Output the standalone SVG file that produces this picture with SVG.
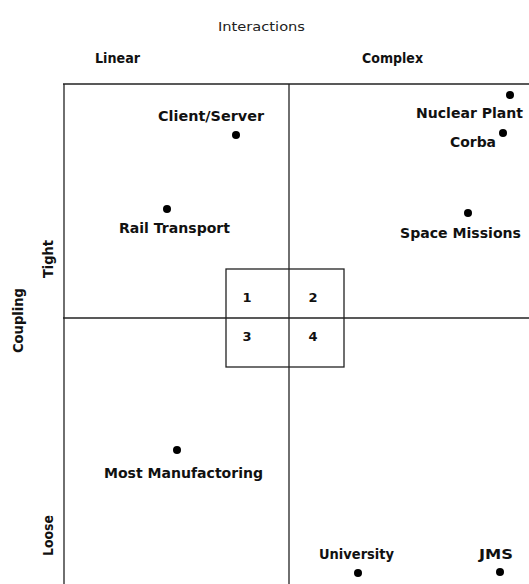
<svg xmlns="http://www.w3.org/2000/svg" width="529" height="584" viewBox="0 0 529 584">
<style>
.ln{stroke:#222;stroke-width:1.3;fill:none}
.t{font-family:"DejaVu Sans",sans-serif;font-size:13.5px;font-weight:bold;fill:#111}
.h{font-family:"DejaVu Sans",sans-serif;font-size:12px;fill:#222}
.n{font-family:"DejaVu Sans",sans-serif;font-size:13px;font-weight:bold;fill:#111;text-anchor:middle}
.d{fill:#000}
</style>
<rect width="529" height="584" fill="#fff"/>
<g id="axes">
<text class="h" x="218" y="31" textLength="87" lengthAdjust="spacingAndGlyphs">Interactions</text>
<text class="t" x="95" y="63" textLength="45" lengthAdjust="spacingAndGlyphs">Linear</text>
<text class="t" x="362" y="63" textLength="61" lengthAdjust="spacingAndGlyphs">Complex</text>
<text class="t" transform="translate(53,278) rotate(-90)" textLength="38" lengthAdjust="spacingAndGlyphs">Tight</text>
<text class="t" transform="translate(23,353) rotate(-90)" textLength="65" lengthAdjust="spacingAndGlyphs">Coupling</text>
<text class="t" transform="translate(53,556) rotate(-90)" textLength="41" lengthAdjust="spacingAndGlyphs">Loose</text>
</g>
<g id="connectors">
<line class="ln" x1="63" y1="84" x2="529" y2="84"/>
<line class="ln" x1="64" y1="84" x2="64" y2="584"/>
<line class="ln" x1="289" y1="84" x2="289" y2="584"/>
<line class="ln" x1="63" y1="318" x2="529" y2="318"/>
<rect class="ln" x="226" y="269" width="118" height="98"/>
</g>
<g id="quadrants">
<text class="n" x="247" y="302">1</text>
<text class="n" x="313" y="302">2</text>
<text class="n" x="247" y="341">3</text>
<text class="n" x="313" y="341">4</text>
</g>
<g id="client-server"><circle class="d" cx="236" cy="135" r="4"/><text class="t" x="158" y="121" textLength="106" lengthAdjust="spacingAndGlyphs">Client/Server</text></g>
<g id="rail-transport"><circle class="d" cx="167" cy="209" r="4"/><text class="t" x="119" y="233" textLength="111" lengthAdjust="spacingAndGlyphs">Rail Transport</text></g>
<g id="nuclear-plant"><circle class="d" cx="510" cy="95" r="4"/><text class="t" x="416" y="118" textLength="107" lengthAdjust="spacingAndGlyphs">Nuclear Plant</text></g>
<g id="corba"><circle class="d" cx="503" cy="133" r="4"/><text class="t" x="450" y="147" textLength="46" lengthAdjust="spacingAndGlyphs">Corba</text></g>
<g id="space-missions"><circle class="d" cx="468" cy="213" r="4"/><text class="t" x="400" y="238" textLength="121" lengthAdjust="spacingAndGlyphs">Space Missions</text></g>
<g id="most-manufactoring"><circle class="d" cx="177" cy="450" r="4"/><text class="t" x="104" y="478" textLength="159" lengthAdjust="spacingAndGlyphs">Most Manufactoring</text></g>
<g id="university"><circle class="d" cx="358" cy="573" r="4"/><text class="t" x="319" y="559" textLength="75" lengthAdjust="spacingAndGlyphs">University</text></g>
<g id="jms"><circle class="d" cx="500" cy="572" r="4"/><text class="t" x="479" y="559" textLength="34" lengthAdjust="spacingAndGlyphs">JMS</text></g>
</svg>
